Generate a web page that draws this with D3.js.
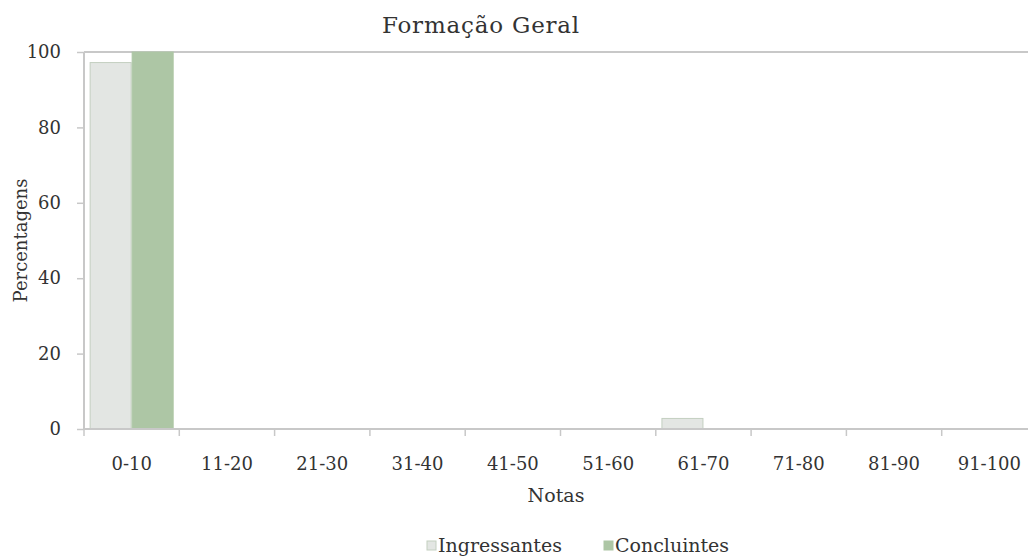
<!DOCTYPE html>
<html>
<head>
<meta charset="utf-8">
<script src="https://cdn.jsdelivr.net/npm/d3@7"></script>
<style>
  body { margin: 0; background: #fff; }
  text { font-family: "DejaVu Serif", serif; fill: #333; }
</style>
</head>
<body>
<div id="chart"></div>
<script>
// chart data
const categories = ['0-10', '11-20', '21-30', '31-40', '41-50', '51-60', '61-70', '71-80', '81-90', '91-100'];
const seriesNames = ['Ingressantes', 'Concluintes'];
const ingressantes = [97.2, 0, 0, 0, 0, 0, 2.8, 0, 0, 0];
const concluintes = [100, 0, 0, 0, 0, 0, 0, 0, 0, 0];
const yTicks = [0, 20, 40, 60, 80, 100];

const width = 1028, height = 558;
const margin = {top: 52, left: 84, bottom: 129};
const plotRight = 1037;

const svg = d3.select('#chart').append('svg')
    .attr('width', width)
    .attr('height', height);

const x = d3.scaleBand()
    .domain(categories)
    .range([margin.left, plotRight])
    .paddingInner(0)
    .paddingOuter(0);

const x1 = d3.scaleBand()
    .domain(seriesNames)
    .range([0, x.bandwidth()])
    .paddingInner(0)
    .paddingOuter(0.134);

const y = d3.scaleLinear()
    .domain([0, 100])
    .range([height - margin.bottom, margin.top]);

const fills = {Ingressantes: '#e3e6e3', Concluintes: '#adc6a5'};
const strokes = {Ingressantes: '#c3cfc0', Concluintes: '#adc6a5'};

const rows = categories.map(function(c, i){
    return {cat: c, values: [
        {name: 'Ingressantes', v: ingressantes[i]},
        {name: 'Concluintes', v: concluintes[i]}
    ]};
});

// top border
svg.append('line')
    .attr('x1', margin.left).attr('x2', plotRight)
    .attr('y1', y(100)).attr('y2', y(100))
    .attr('stroke', '#c8c8c8').attr('stroke-width', 2);

// bars
const groups = svg.append('g').selectAll('g')
    .data(rows)
    .enter().append('g')
    .attr('transform', function(d){ return 'translate(' + x(d.cat) + ',0)'; });

groups.selectAll('rect')
    .data(function(d){ return d.values.filter(function(v){ return v.v > 0; }); })
    .enter().append('rect')
    .attr('x', function(d){ return x1(d.name) + 0.5; })
    .attr('y', function(d){ return y(d.v); })
    .attr('width', x1.bandwidth() - 1)
    .attr('height', function(d){ return y(0) - y(d.v); })
    .attr('fill', function(d){ return fills[d.name]; })
    .attr('stroke', function(d){ return strokes[d.name]; })
    .attr('stroke-width', 1);

// y axis
const yAxis = svg.append('g')
    .attr('transform', 'translate(' + margin.left + ',0)')
    .call(d3.axisLeft(y).tickValues(yTicks).tickSize(7).tickPadding(16));
yAxis.select('.domain').attr('stroke', '#c8c8c8').attr('stroke-width', 2)
    .attr('d', 'M0,' + y(100) + 'V' + y(0));
yAxis.selectAll('.tick line').attr('stroke', '#c8c8c8').attr('stroke-width', 1.5);
yAxis.selectAll('.tick text').style('font-size', '18px').attr('fill', '#333')
    .style('font-family', '"DejaVu Serif", serif');

// x axis
const xAxis = svg.append('g')
    .attr('transform', 'translate(0,' + y(0) + ')')
    .call(d3.axisBottom(x).tickSize(0).tickPadding(28));
xAxis.select('.domain').attr('stroke', '#c8c8c8').attr('stroke-width', 2)
    .attr('d', 'M' + margin.left + ',0H' + plotRight);
xAxis.selectAll('.tick text').style('font-size', '18px').attr('fill', '#333')
    .style('font-family', '"DejaVu Serif", serif');

// boundary ticks between categories
svg.append('g').selectAll('line')
    .data(categories)
    .enter().append('line')
    .attr('x1', function(d){ return x(d); })
    .attr('x2', function(d){ return x(d); })
    .attr('y1', y(0))
    .attr('y2', y(0) + 7)
    .attr('stroke', '#c8c8c8').attr('stroke-width', 1.5);

// title and axis titles
svg.append('text')
    .attr('x', 481).attr('y', 33)
    .attr('text-anchor', 'middle')
    .style('font-size', '23px')
    .style('letter-spacing', '0.8px')
    .attr('fill', '#111')
    .text('Formação Geral');

svg.append('text')
    .attr('x', 556).attr('y', 502)
    .attr('text-anchor', 'middle')
    .style('font-size', '19px')
    .text('Notas');

svg.append('text')
    .attr('transform', 'translate(27,' + ((y(0) + y(100)) / 2) + ') rotate(-90)')
    .attr('text-anchor', 'middle')
    .style('font-size', '18px')
    .text('Percentagens');

// legend
const legendX = [427, 604];
const legend = svg.append('g').selectAll('g')
    .data(seriesNames)
    .enter().append('g')
    .attr('transform', function(d, i){ return 'translate(' + legendX[i] + ',541)'; });
legend.append('rect')
    .attr('width', 9).attr('height', 9)
    .attr('fill', function(d){ return fills[d]; })
    .attr('stroke', function(d){ return strokes[d]; });
legend.append('text')
    .attr('x', 11).attr('y', 11)
    .style('font-size', '19px')
    .text(function(d){ return d; });
</script>
</body>
</html>
